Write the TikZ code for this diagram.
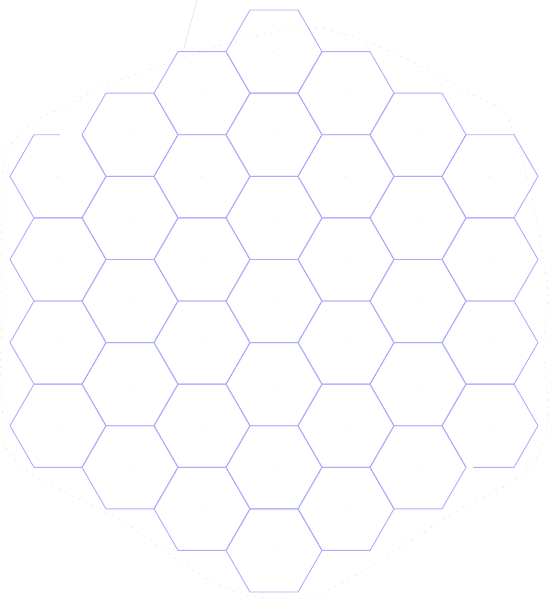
\documentclass[tikz,border=0pt]{standalone}
\usetikzlibrary{calc}
\definecolor{hexline}{RGB}{172,172,255}
\definecolor{faint}{RGB}{225,225,225}
\tikzset{
  hexedge/.style={draw=hexline, line width=0.9pt, line join=miter},
  centerdot/.style={fill=hexline!70, draw=none},
  faintline/.style={draw=faint, line width=0.6pt, dash pattern=on 1.5pt off 6pt}
}
\begin{document}
\begin{tikzpicture}[x=1pt,y=-1pt]
\useasboundingbox (0,0) rectangle (551,600);
\def\R{48}
\def\H{41.57}
% faint outline
\draw[faintline] plot[smooth cycle, tension=0.7] coordinates {
 (2,217) (12,143) (77,100) (143,72) (274,32) (353,37) (473,95) (513,130)
 (546,277) (544,343) (538,455) (447,517) (333,587) (274,598) (213,582)
 (123,522) (17,462) (2,400) (2,300)};
\draw[draw=faint, line width=0.6pt] (197,0) -- (184,48);
% hex grid
\foreach \c in {-3,...,3}{
  \pgfmathtruncatemacro\n{6-abs(\c)}
  \foreach \r in {0,...,\n}{
    \pgfmathsetmacro\cx{274+72*\c}
    \pgfmathsetmacro\cy{51.6+\H*abs(\c)+2*\H*\r}
    \coordinate (h\c\r) at (\cx,\cy);
    \fill[centerdot] (h\c\r) circle (0.5pt);
    \pgfmathtruncatemacro\skiphex{(\c==-3 && \r==0) || (\c==3 && \r==3) ? 1 : 0}
    \ifnum\skiphex=0
      \draw[hexedge] ($(h\c\r)+(0:\R)$) -- ($(h\c\r)+(60:\R)$) -- ($(h\c\r)+(120:\R)$) -- ($(h\c\r)+(180:\R)$) -- ($(h\c\r)+(240:\R)$) -- ($(h\c\r)+(300:\R)$) -- cycle;
    \fi
  }
}
% partial hexes
\draw[hexedge] ($(h-30)+(2,-\H)$) -- ($(h-30)+(240:\R)$) -- ($(h-30)+(180:\R)$) -- ($(h-30)+(120:\R)$) -- ($(h-30)+(60:\R)$) -- ($(h-30)+(0:\R)$) -- ($(h-30)+(300:\R)$);
\draw[hexedge] ($(h33)+(-17,\H)$) -- ($(h33)+(60:\R)$) -- ($(h33)+(0:\R)$) -- ($(h33)+(300:\R)$) -- ($(h33)+(240:\R)$) -- ($(h33)+(180:\R)$) -- ($(h33)+(120:\R)$);
\end{tikzpicture}
\end{document}
